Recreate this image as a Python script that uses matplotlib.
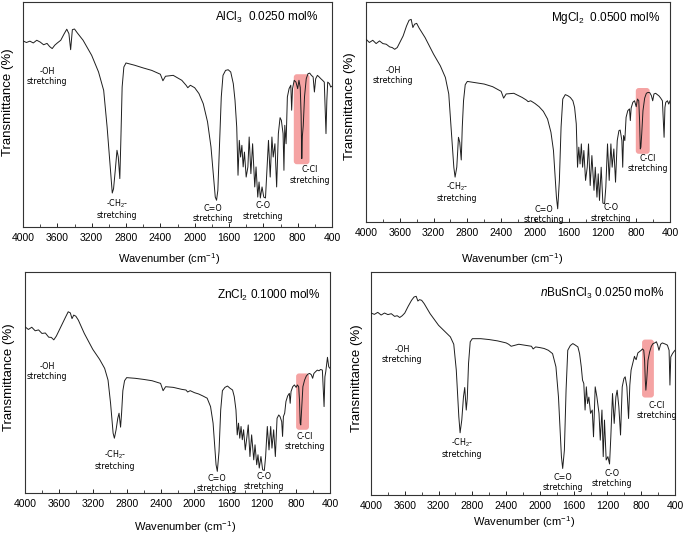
import matplotlib
matplotlib.use("Agg")
import matplotlib.pyplot as plt
from matplotlib.patches import FancyBboxPatch
from matplotlib.ticker import MultipleLocator

plt.rcParams['font.family'] = ['Liberation Sans', 'DejaVu Sans']
plt.rcParams['mathtext.fontset'] = 'custom'
plt.rcParams['mathtext.rm'] = 'Liberation Sans'
plt.rcParams['mathtext.it'] = 'Liberation Sans:italic'

# ---- data: wavenumbers (cm-1) shared by all spectra, transmittance in arbitrary % ----
wavenumber = [
    4000, 3960, 3920, 3880, 3840, 3800, 3760, 3720, 3690, 3660,
    3630, 3600, 3560, 3520, 3490, 3465, 3445, 3425, 3400, 3370,
    3300, 3200, 3120, 3060, 3020, 2990, 2960, 2945, 2925, 2905,
    2890, 2872, 2860, 2845, 2825, 2800, 2700, 2600, 2500, 2400,
    2370, 2340, 2250, 2150, 2100, 2080, 2050, 2000, 1950, 1900,
    1850, 1810, 1780, 1760, 1745, 1730, 1710, 1690, 1670, 1640,
    1610, 1580, 1550, 1530, 1510, 1495, 1480, 1465, 1450, 1435,
    1420, 1400, 1380, 1365, 1345, 1325, 1300, 1285, 1265, 1250,
    1235, 1215, 1195, 1175, 1160, 1140, 1120, 1100, 1085, 1065,
    1045, 1025, 1005, 990, 970, 960, 950, 935, 920, 900,
    880, 870, 860, 840, 820, 800, 785, 770, 760, 752,
    745, 735, 720, 700, 680, 660, 640, 620, 605, 590,
    570, 550, 530, 510, 490, 470, 460, 450, 430, 415,
    400,
]

t_alcl3 = [
    82.7, 82.0, 82.6, 81.8, 83.0, 82.2, 81.0, 81.6, 80.2, 79.3,
    80.8, 81.8, 83.0, 85.9, 87.9, 85.9, 78.8, 87.7, 88.0, 86.4,
    83.0, 76.3, 68.9, 60.7, 44.4, 29.6, 15.1, 17.0, 25.2, 34.1,
    31.1, 21.5, 38.5, 62.2, 71.1, 72.9, 71.9, 70.7, 69.6, 67.9,
    65.0, 67.0, 67.4, 65.2, 63.0, 61.9, 63.0, 61.9, 59.3, 54.8,
    46.7, 35.6, 22.2, 13.3, 11.9, 16.3, 37.0, 57.8, 67.4, 69.6,
    69.9, 68.9, 63.7, 56.3, 44.4, 23.0, 38.5, 31.1, 36.3, 26.7,
    33.3, 22.2, 26.7, 40.0, 23.7, 37.0, 17.8, 26.7, 13.3, 20.0,
    12.9, 17.8, 13.3, 12.9, 23.7, 38.5, 22.2, 40.0, 31.1, 37.0,
    17.8, 41.5, 48.6, 47.4, 41.5, 25.2, 45.2, 37.0, 57.8, 61.5,
    63.0, 51.9, 61.5, 65.2, 64.4, 61.5, 65.2, 62.0, 50.0, 30.4,
    40.5, 45.0, 58.0, 65.9, 68.1, 68.4, 67.4, 66.7, 60.0, 65.9,
    67.4, 66.7, 65.9, 65.2, 64.4, 41.5, 56.3, 64.4, 63.7, 62.2,
    62.6,
]

t_mgcl2 = [
    83.1, 81.6, 82.6, 81.1, 82.3, 81.1, 80.8, 79.6, 79.3, 78.5,
    79.3, 81.6, 84.6, 89.1, 91.7, 92.1, 88.4, 89.9, 90.3, 88.1,
    83.8, 76.3, 71.0, 65.7, 58.2, 41.5, 24.9, 20.4, 24.9, 38.5,
    36.3, 28.2, 43.1, 55.1, 62.4, 63.9, 63.3, 62.7, 61.5, 59.4,
    56.3, 58.2, 58.5, 56.6, 55.4, 54.7, 55.1, 53.9, 52.4, 50.3,
    46.8, 40.8, 32.5, 20.4, 11.3, 6.0, 18.9, 43.1, 55.9, 57.9,
    57.4, 56.6, 55.1, 52.1, 44.6, 24.9, 34.0, 26.4, 35.5, 24.9,
    32.5, 18.9, 24.9, 35.5, 16.6, 30.2, 14.4, 24.9, 11.3, 21.9,
    9.8, 24.9, 8.6, 8.3, 15.9, 35.5, 18.9, 35.5, 24.9, 33.2,
    18.1, 37.0, 41.5, 41.8, 37.0, 24.9, 39.3, 37.0, 47.6, 50.6,
    51.4, 46.1, 51.8, 54.4, 55.1, 52.4, 55.9, 55.1, 46.1, 33.2,
    34.0, 40.0, 50.6, 56.3, 58.5, 58.9, 58.8, 57.4, 55.1, 58.2,
    58.5, 57.9, 57.3, 56.3, 55.1, 38.5, 52.1, 54.4, 55.1, 53.6,
    55.1,
]

t_zncl2 = [
    75.2, 74.0, 75.0, 73.4, 73.8, 72.2, 72.4, 70.5, 70.4, 69.3,
    71.0, 73.4, 76.7, 79.7, 82.0, 81.5, 78.9, 80.5, 80.0, 78.2,
    72.2, 65.0, 60.5, 56.4, 51.1, 40.6, 27.1, 24.8, 28.6, 33.8,
    36.1, 29.8, 36.1, 46.3, 50.8, 52.2, 51.9, 51.4, 50.8, 49.6,
    46.3, 48.1, 47.8, 46.9, 46.6, 45.7, 46.3, 45.4, 44.8, 43.9,
    42.9, 39.1, 31.6, 21.1, 12.8, 9.8, 18.8, 37.6, 46.3, 47.8,
    48.4, 47.4, 46.6, 43.6, 37.6, 26.3, 31.6, 24.8, 30.1, 24.1,
    28.6, 19.5, 25.6, 30.8, 16.5, 26.3, 15.0, 21.8, 12.8, 17.3,
    11.3, 16.5, 10.5, 10.2, 16.5, 30.1, 19.5, 30.1, 20.3, 28.6,
    16.5, 33.8, 35.3, 34.6, 32.3, 25.6, 34.6, 36.1, 41.4, 43.9,
    45.1, 40.6, 45.9, 48.1, 48.9, 47.8, 48.9, 48.1, 42.1, 31.6,
    30.8, 37.6, 48.1, 51.1, 52.9, 53.8, 54.1, 53.5, 51.9, 54.1,
    54.9, 55.6, 55.3, 55.9, 55.6, 39.1, 52.6, 54.9, 61.4, 57.1,
    56.4,
]

t_busncl3 = [
    81.6, 81.0, 81.9, 80.7, 81.6, 80.9, 81.3, 80.1, 80.4, 79.6,
    80.4, 81.6, 84.6, 87.3, 88.8, 89.1, 87.0, 87.6, 87.3, 85.8,
    81.3, 76.1, 73.1, 70.9, 67.6, 56.0, 35.1, 27.9, 33.6, 44.0,
    48.2, 38.1, 43.3, 59.0, 68.7, 70.1, 70.1, 69.7, 69.1, 68.2,
    67.6, 66.7, 67.6, 67.0, 66.7, 65.5, 66.4, 66.1, 65.7, 64.9,
    63.4, 57.5, 44.0, 29.1, 17.2, 11.9, 20.1, 47.0, 64.9, 67.0,
    67.9, 67.2, 66.4, 63.4, 57.5, 51.5, 50.0, 38.1, 48.5, 41.0,
    43.9, 36.6, 38.1, 26.1, 48.5, 44.0, 36.6, 24.6, 38.1, 17.2,
    33.6, 15.7, 17.2, 13.9, 26.1, 45.5, 32.1, 44.0, 47.0, 39.6,
    26.9, 48.5, 52.2, 53.0, 48.5, 41.0, 34.3, 49.3, 56.0, 59.0,
    62.2, 61.2, 60.7, 63.7, 64.3, 64.9, 65.5, 64.9, 60.4, 51.5,
    47.0, 51.5, 60.4, 64.2, 66.7, 67.9, 68.2, 68.7, 67.2, 64.9,
    67.6, 68.2, 67.9, 67.6, 67.2, 64.9, 49.3, 61.9, 63.4, 64.2,
    64.9,
]

titles = [r'AlCl$_3$  0.0250 mol%', r'MgCl$_2$  0.0500 mol%',
          r'ZnCl$_2$ 0.1000 mol%', r'$\mathit{n}$BuSnCl$_3$ 0.0250 mol%']
spectra = [t_alcl3, t_mgcl2, t_zncl2, t_busncl3]
band_names = ['-OH\nstretching', '-CH$_2$-\nstretching', 'C=O\nstretching',
              'C-O\nstretching', 'C-Cl\nstretching']

# ---- layout (pixels in a 685x536 figure) ----
W, H = 685, 536
panel_px = [(23, 2, 332, 227), (366, 2, 670, 222), (25, 272, 330, 493), (371, 272, 675, 495)]
ylabel_px = [(8, 102), (350, 106), (9, 377), (357, 378)]
xlabel_px = [(169, 256), (512, 256), (185, 524), (524, 519)]
title_px = [(318, 17), (660, 18), (320, 295), (665, 293)]
# C-Cl highlight box: (wn_high, wn_low, t_top, t_bottom)
boxes = [(845, 662, 67.9, 27.9), (805, 640, 60.9, 31.0), (800, 648, 54.1, 28.6), (790, 650, 69.7, 43.7)]
# band label centres (wn, t) per panel
label_pos = [
    [(3720, 67.1), (2905, 8.2), (1786, 5.8), (1204, 7.1), (656, 23.1)],
    [(3680, 66.4), (2922, 13.6), (1892, 3.6), (1099, 4.1), (661, 26.4)],
    [(3740, 54.8), (2938, 14.9), (1734, 4.1), (1179, 5.0), (695, 23.5)],
    [(3633, 63.2), (2922, 21.1), (1726, 5.8), (1146, 7.6), (613, 38.1)],
]

fig = plt.figure(figsize=(W / 100, H / 100), dpi=100)

for i in range(4):
    l, t, r, b = panel_px[i]
    ax = fig.add_axes([l / W, 1 - b / H, (r - l) / W, (b - t) / H])
    ax.plot(wavenumber, spectra[i], color='#1e1e1e', lw=0.7, zorder=3)
    ax.set_xlim(4000, 400)
    ax.set_ylim(0, 100)

    hi, lo, top, bot = boxes[i]
    xpp = 3600 / (r - l)
    ypp = 100 / (b - t)
    box = FancyBboxPatch((lo, bot), hi - lo, top - bot,
                         boxstyle=f'round,pad=0,rounding_size={3 * xpp:.1f}',
                         mutation_aspect=ypp / xpp,
                         facecolor='#f5a3a3', edgecolor='none', zorder=2)
    ax.add_patch(box)

    for name, (x, y) in zip(band_names, label_pos[i]):
        ax.text(x, y, name, fontsize=5.8, family=['DejaVu Sans'],
                ha='center', va='center', linespacing=1.15, zorder=4)

    tx, ty = title_px[i]
    ax.text((tx - l) / (r - l), (b - ty) / (b - t), titles[i], transform=ax.transAxes,
            fontsize=8.5, ha='right', va='center')

    ax.xaxis.set_major_locator(MultipleLocator(400))
    ax.xaxis.set_minor_locator(MultipleLocator(200))
    ax.tick_params(axis='x', which='major', direction='in', length=3, width=0.6,
                   labelsize=7.5, pad=4)
    ax.tick_params(axis='x', which='minor', direction='in', length=2, width=0.5)
    ax.set_yticks([])
    for sp in ax.spines.values():
        sp.set_linewidth(0.8)
        sp.set_color('#333333')

    ax.set_xlabel('Wavenumber (cm$^{-1}$)', fontsize=8)
    xx, xy = xlabel_px[i]
    ax.xaxis.set_label_coords((xx - l) / (r - l), (b - (xy - 5)) / (b - t))
    ax.set_ylabel('Transmittance (%)', fontsize=9.5)
    yx, yy = ylabel_px[i]
    ax.yaxis.set_label_coords((yx + 6 - l) / (r - l), (b - yy) / (b - t))

fig.savefig('out.png', dpi=100, facecolor='white')
